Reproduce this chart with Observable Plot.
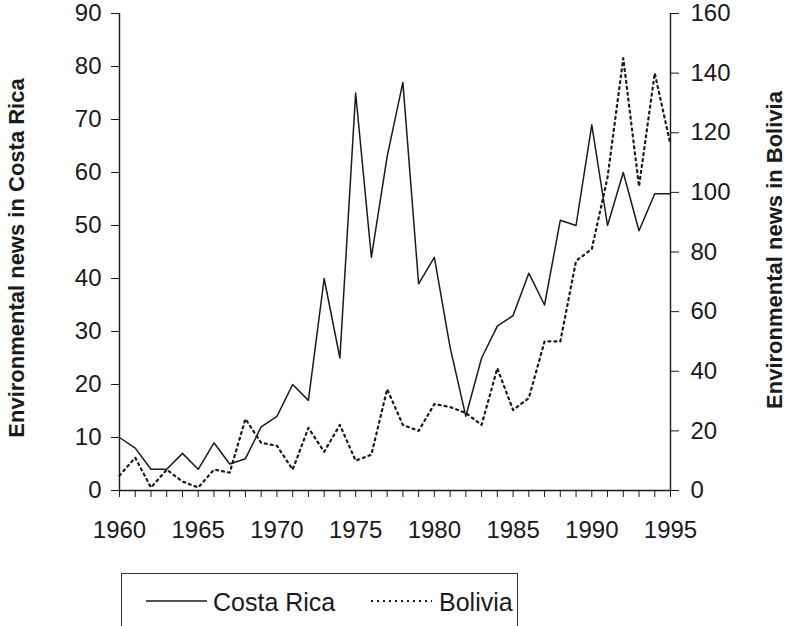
<!DOCTYPE html>
<html>
<head>
<meta charset="utf-8">
<script src="https://cdn.jsdelivr.net/npm/d3@7"></script>
<script src="https://cdn.jsdelivr.net/npm/@observablehq/plot@0.6"></script>
<style>
  html, body { margin: 0; padding: 0; background: #fff; }
  #wrap { position: relative; width: 787px; height: 626px; overflow: hidden; font-family: "Liberation Sans", Arial, sans-serif; color: #1a1a1a; }
  #chart { position: absolute; left: 0; top: 0; }
  #legend { position: absolute; left: 121px; top: 573px; width: 397px; height: 62px; border: 1.5px solid #333; box-sizing: border-box; background: #fff; }
  #legend svg { position: absolute; left: 0; top: 0; }
  .lt { position: absolute; top: 13px; font-size: 25px; line-height: 30px; }
</style>
</head>
<body>
<div id="wrap">
  <div id="chart"></div>
  <div id="legend">
    <svg width="397" height="60">
      <line x1="24" x2="85" y1="27" y2="27" stroke="#1a1a1a" stroke-width="1.5"></line>
      <line x1="249" x2="310" y1="27" y2="27" stroke="#1a1a1a" stroke-width="2" stroke-dasharray="2,4"></line>
    </svg>
    <span class="lt" style="left:91px">Costa Rica</span>
    <span class="lt" style="left:317px">Bolivia</span>
  </div>
</div>
<script>
const years = [1960,1961,1962,1963,1964,1965,1966,1967,1968,1969,1970,1971,1972,1973,1974,1975,1976,1977,1978,1979,1980,1981,1982,1983,1984,1985,1986,1987,1988,1989,1990,1991,1992,1993,1994,1995];
const costaRica = [10,8,4,4,7,4,9,5,6,12,14,20,17,40,25,75,44,63,77,39,44,27,14,25,31,33,41,35,51,50,69,50,60,49,56,56];
const bolivia = [5,11,1,7,3,1,7,6,24,16,15,7,21,13,22,10,12,34,22,20,29,28,26,22,41,27,31,50,50,77,81,105,145,102,140,116];
const xLabelTicks = [1960,1965,1970,1975,1980,1985,1990,1995];
const leftTicks = [0,10,20,30,40,50,60,70,80,90];
const rightTicks = [0,20,40,60,80,100,120,140,160];
const leftTitle = "Environmental news in Costa Rica";
const rightTitle = "Environmental news in Bolivia";

const LMAX = 90, RMAX = 160;
const rows = years.map((y, i) => ({year: y, cr: costaRica[i], bo: bolivia[i]}));
const toLeft = v => v * LMAX / RMAX;

const chart = Plot.plot({
  width: 787,
  height: 565,
  marginLeft: 119,
  marginRight: 117,
  marginTop: 13,
  marginBottom: 75,
  x: {domain: [1960, 1995]},
  y: {domain: [0, LMAX]},
  style: {fontFamily: "'Liberation Sans', Arial, sans-serif", fontSize: "24px", color: "#1a1a1a", background: "#fff", overflow: "visible"},
  marks: [
    Plot.axisY({ticks: leftTicks, anchor: "left", tickSize: 8, tickPadding: 10, fontSize: 24, label: null, tickFormat: d => String(d)}),
    Plot.axisY({ticks: rightTicks.map(toLeft), anchor: "right", tickSize: 8, text: null, label: null}),
    Plot.axisY({ticks: rightTicks.map(toLeft), anchor: "right", tickSize: 0, tickPadding: 20, fontSize: 24, label: null, tickFormat: d => String(Math.round(d * RMAX / LMAX))}),
    Plot.axisX({ticks: years, anchor: "bottom", tickSize: 7, text: null, label: null}),
    Plot.axisX({ticks: xLabelTicks, anchor: "bottom", tickSize: 0, tickPadding: 30, fontSize: 24, label: null, tickFormat: d => String(d)}),
    Plot.ruleX([1960, 1995], {y1: 0, y2: LMAX, stroke: "#1a1a1a", strokeWidth: 1.4}),
    Plot.ruleY([0], {stroke: "#1a1a1a", strokeWidth: 1.4}),
    Plot.line(rows, {x: "year", y: "cr", stroke: "#1a1a1a", strokeWidth: 1.5}),
    Plot.line(rows, {x: "year", y: d => toLeft(d.bo), stroke: "#1a1a1a", strokeWidth: 2.2, strokeDasharray: "2,4"}),
    Plot.text([leftTitle], {frameAnchor: "left", textAnchor: "middle", rotate: -90, dx: -103, dy: 6, fontSize: 22, fontWeight: "bold", fill: "#1a1a1a"}),
    Plot.text([rightTitle], {frameAnchor: "right", textAnchor: "middle", rotate: -90, dx: 104, dy: -2, fontSize: 22, fontWeight: "bold", fill: "#1a1a1a"})
  ]
});
document.getElementById("chart").appendChild(chart);
</script>
</body>
</html>
